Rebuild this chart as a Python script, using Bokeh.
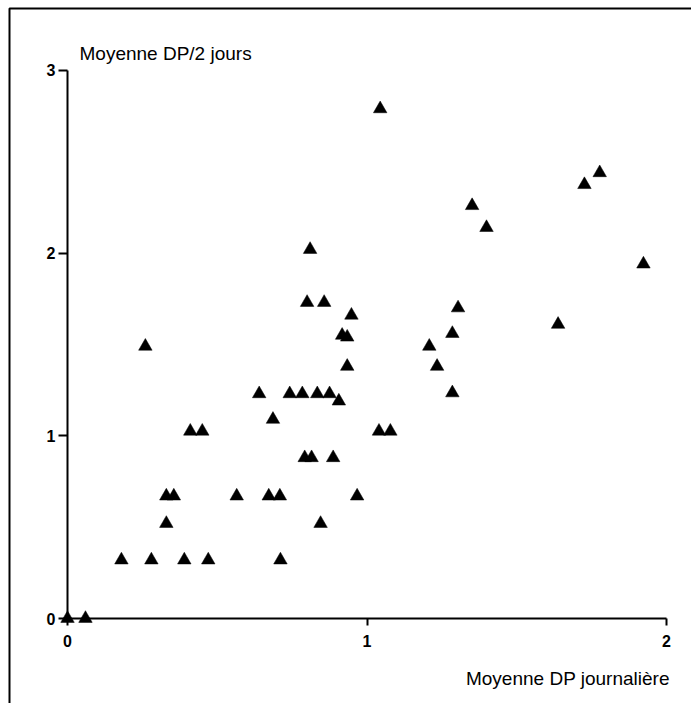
from bokeh.plotting import figure
from bokeh.models import FixedTicker, Label, BoxAnnotation, Range1d
from bokeh.embed import file_html
from bokeh.resources import INLINE

# ---- data ----
x_vals = [0.00, 0.06, 0.18, 0.28, 0.39, 0.47, 0.26, 0.41, 0.45, 0.33, 0.355, 0.565,
          0.33, 0.81, 0.80, 0.857, 0.948, 0.917, 0.934, 0.934, 0.64, 0.742, 0.784,
          0.834, 0.875, 0.906, 0.686, 0.792, 0.815, 0.887, 0.672, 0.709, 0.967, 0.845,
          0.711, 1.044, 1.351, 1.399, 1.304, 1.285, 1.208, 1.234, 1.285, 1.04, 1.078,
          1.777, 1.726, 1.923, 1.638]
y_vals = [0.00, 0.00, 0.32, 0.32, 0.32, 0.32, 1.49, 1.025, 1.025, 0.67, 0.67, 0.67,
          0.52, 2.02, 1.73, 1.73, 1.66, 1.55, 1.54, 1.38, 1.23, 1.23, 1.23,
          1.23, 1.23, 1.19, 1.09, 0.88, 0.88, 0.88, 0.67, 0.67, 0.67, 0.52,
          0.32, 2.79, 2.26, 2.14, 1.70, 1.56, 1.49, 1.38, 1.235, 1.025, 1.025,
          2.44, 2.375, 1.94, 1.61]
x_ticks = [0, 1, 2]
y_ticks = [0, 1, 2, 3]
x_title = "Moyenne DP journalière"
y_title = "Moyenne DP/2 jours"

# ---- layout constants ----
W, H = 691, 703
X0, Y0 = 67, 618          # pixel position of the origin
PX_X, PX_Y = 299.5, 182.67  # pixels per data unit
FONT = "Liberation Sans"

x_start, x_end = -X0 / PX_X, (W - X0) / PX_X
y_start, y_end = -(H - Y0) / PX_Y, Y0 / PX_Y

p = figure(width=W, height=H, x_range=Range1d(x_start, x_end),
           y_range=Range1d(y_start, y_end), output_backend="svg",
           toolbar_location=None, min_border=0)
p.outline_line_color = None
p.background_fill_color = "white"
p.border_fill_color = "white"
p.grid.visible = False

# page frame (top and left edges)
p.add_layout(BoxAnnotation(left=(9 - X0) / PX_X, top=(Y0 - 8) / PX_Y,
                           right=x_end + 1, bottom=y_start - 1,
                           fill_alpha=0, line_color="black", line_alpha=1.0,
                           line_width=2))

xa = p.xaxis[0]
xa.fixed_location = 0
xa.bounds = (0, 2)
xa.ticker = FixedTicker(ticks=x_ticks)
xa.major_tick_in = 0
xa.major_tick_out = 7
xa.minor_tick_in = 0
xa.minor_tick_out = 0
xa.major_label_standoff = 9

ya = p.yaxis[0]
ya.fixed_location = 0
ya.bounds = (0, 3)
ya.ticker = FixedTicker(ticks=y_ticks)
ya.major_tick_in = 0
ya.major_tick_out = 9
ya.minor_tick_in = 0
ya.minor_tick_out = 0
ya.major_label_standoff = 3
ya.major_label_orientation = "horizontal"

for ax in (xa, ya):
    ax.axis_line_width = 2
    ax.axis_line_color = "black"
    ax.major_tick_line_width = 2
    ax.major_tick_line_color = "black"
    ax.major_label_text_font = FONT
    ax.major_label_text_font_size = "16px"
    ax.major_label_text_font_style = "bold"
    ax.major_label_text_color = "black"

p.scatter(x_vals, y_vals, marker="triangle", size=13.5,
          fill_color="black", line_color="black", line_width=0.5)

p.add_layout(Label(x=(79 - X0) / PX_X, y=(Y0 - 52.5) / PX_Y, text=y_title,
                   text_font=FONT, text_font_size="19px", text_color="black",
                   text_align="left", text_baseline="alphabetic"))
p.add_layout(Label(x=(669.3 - X0) / PX_X, y=(Y0 - 678.3) / PX_Y, text=x_title,
                   text_font=FONT, text_font_size="19px", text_color="black",
                   text_align="right", text_baseline="alphabetic"))

open("out.html", "w").write(file_html(p, INLINE))
